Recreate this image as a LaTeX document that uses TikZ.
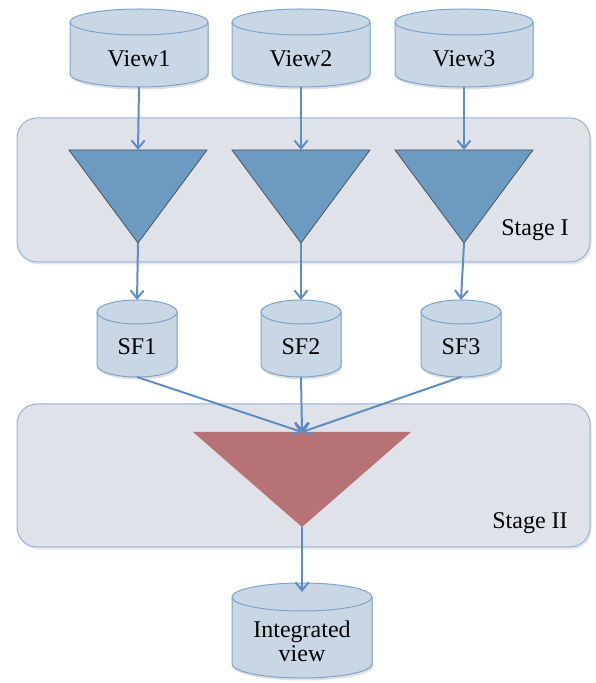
\documentclass[tikz,border=0pt]{standalone}
\usepackage{fontspec}
\setmainfont{Liberation Serif}
\usetikzlibrary{arrows.meta,shadows}
\definecolor{lineblue}{HTML}{5E8DC5}
\definecolor{cylfill}{HTML}{C9D7E5}
\definecolor{cylline}{HTML}{7FA3CB}
\definecolor{boxfill}{HTML}{DFE2E8}
\definecolor{boxline}{HTML}{94B4DA}
\definecolor{trifill}{HTML}{6C9AC1}
\definecolor{triline}{HTML}{4A5560}
\definecolor{redfill}{HTML}{B77275}
\tikzset{
  arr/.style={draw=lineblue, line width=2pt, -{Straight Barb[length=8pt,width=13pt,line width=2pt]}},
  cylstyle/.style={fill=cylfill, draw=cylline, line width=1pt,
    drop shadow={opacity=0.25, shadow xshift=1pt, shadow yshift=-2.5pt}},
  stagebox/.style={fill=boxfill, draw=boxline, line width=1pt, rounded corners=20pt,
    drop shadow={opacity=0.2, shadow xshift=1.5pt, shadow yshift=-2.5pt}},
  bluetri/.style={fill=trifill, draw=triline, line width=0.8pt},
  redtri/.style={fill=redfill, draw=none},
  lbl/.style={font=\fontsize{24}{27}\selectfont, align=center, inner sep=0pt},
}
% \cyl{name}{cx}{top}{bottom}{halfwidth}{ry}
\newcommand{\cyl}[6]{%
  \path[cylstyle] (#2-#5,#3-#6) -- (#2-#5,#4+#6) arc[start angle=180,end angle=360,x radius=#5,y radius=#6]
    -- (#2+#5,#3-#6) arc[start angle=0,end angle=180,x radius=#5,y radius=#6] -- cycle;
  \draw[draw=cylline, line width=1pt] (#2-#5,#3-#6) arc[start angle=180,end angle=360,x radius=#5,y radius=#6];
  \coordinate (#1-n) at (#2,#3);
  \coordinate (#1-s) at (#2,#4);
}
\newcommand{\downtri}[6]{% name, cx, top, apex, halfwidth, style
  \path[#6] (#2-#5,#3) -- (#2+#5,#3) -- (#2,#4) -- cycle;
  \coordinate (#1-n) at (#2,#3);
  \coordinate (#1-s) at (#2,#4);
}
\begin{document}
\begin{tikzpicture}[x=1pt,y=1pt]
\useasboundingbox (0,0) rectangle (596,683);
% stage boxes
\path[stagebox] (17,421) rectangle (590,565);
\path[stagebox] (17,136) rectangle (590,279);
\node[lbl] (stage1) at (535,453) {Stage I};
\node[lbl] (stage2) at (530,160) {Stage II};
% view cylinders
\cyl{v1}{139}{674}{596}{69}{13}
\cyl{v2}{301}{674}{596}{69}{13}
\cyl{v3}{464}{674}{596}{69}{13}
\node[lbl] (view1) at (139,624) {View1};
\node[lbl] (view2) at (301,624) {View2};
\node[lbl] (view3) at (464,624) {View3};
% stage I triangles
\downtri{t1}{138}{533}{440}{69}{bluetri}
\downtri{t2}{301}{533}{440}{69}{bluetri}
\downtri{t3}{464}{533}{440}{69}{bluetri}
% SF cylinders
\cyl{s1}{137}{383}{306}{40}{12}
\cyl{s2}{301}{383}{306}{40}{12}
\cyl{s3}{461}{383}{306}{40}{12}
\node[lbl] (sf1) at (137,336) {SF1};
\node[lbl] (sf2) at (301,336) {SF2};
\node[lbl] (sf3) at (461,336) {SF3};
% stage II triangle
\downtri{r}{302}{251}{156}{109}{redtri}
% integrated view
\cyl{iv}{302}{100}{5}{70}{14}
\node[lbl] (integ) at (302,42) {Integrated\\[-3pt]view};
% connectors
\draw[arr] (v1-s) -- (t1-n);
\draw[arr] (v2-s) -- (t2-n);
\draw[arr] (v3-s) -- (t3-n);
\draw[arr] (t1-s) -- (s1-n);
\draw[arr] (t2-s) -- (s2-n);
\draw[arr] (t3-s) -- (s3-n);
\draw[arr] (s1-s) -- (r-n);
\draw[arr] (s2-s) -- (r-n);
\draw[arr] (s3-s) -- (r-n);
\coordinate (iv-in) at (302,91);
\draw[arr] (r-s) -- (iv-in);
\end{tikzpicture}
\end{document}
